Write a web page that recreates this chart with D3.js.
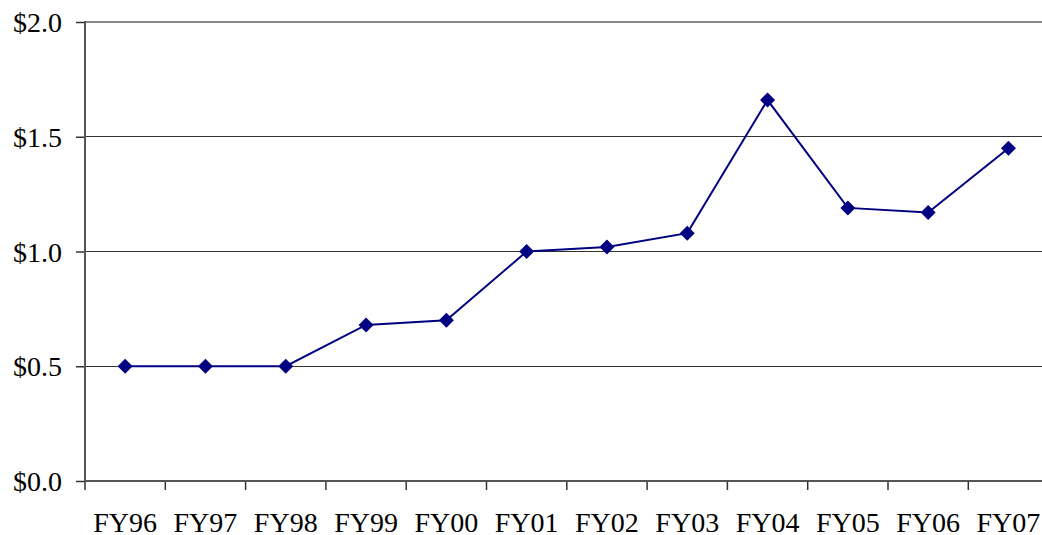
<!DOCTYPE html>
<html><head><meta charset="utf-8">
<script src="https://cdn.jsdelivr.net/npm/d3@7/dist/d3.min.js"></script>
<style>html,body{margin:0;padding:0;background:#fff;overflow:hidden}</style>
</head><body>
<svg id="c" width="1042" height="535"></svg>
<script>
const categories = ["FY96","FY97","FY98","FY99","FY00","FY01","FY02","FY03","FY04","FY05","FY06","FY07"];
const values = [0.50,0.50,0.50,0.68,0.70,1.00,1.02,1.08,1.66,1.19,1.17,1.45];
const yTicks = [0,0.5,1.0,1.5,2.0];
const yTickLabels = ["$0.0","$0.5","$1.0","$1.5","$2.0"];

(function(){
const svg = d3.select("#c");
const pL = 85, pR = 85 + 12*80.3, pT = 22, pB = 481;
const x = d3.scaleBand().domain(categories).range([pL, pR]);
const y = d3.scaleLinear().domain([0,2]).range([pB, pT]);
const font = "'Liberation Serif','Times New Roman',serif";

// gridlines
svg.append("g").selectAll("line").data(yTicks.filter(d=>d>0)).join("line")
  .attr("x1", pL).attr("x2", 1042)
  .attr("y1", d=>y(d)).attr("y2", d=>y(d))
  .attr("stroke", d=>d===2?"#888":"#333")
  .attr("stroke-width", d=>d===2?2:1)
  .attr("shape-rendering","crispEdges");

// y axis
const yAxis = d3.axisLeft(y).tickValues(yTicks).tickFormat((d,i)=>yTickLabels[i]).tickSize(9).tickPadding(14);
const gy = svg.append("g").attr("transform",`translate(${pL},0)`).call(yAxis);
gy.select(".domain").remove();
gy.selectAll(".tick line").attr("stroke","#333").attr("stroke-width",1.5);
gy.selectAll("text").attr("font-family",font).attr("font-size",28).attr("fill","#000").attr("dy","0.34em");
svg.append("line").attr("x1",pL).attr("x2",pL).attr("y1",pT-1).attr("y2",pB+1)
  .attr("stroke","#555").attr("stroke-width",2);

// x axis
const tickPos = categories.map(c=>x(c));
svg.append("g").selectAll("line").data(tickPos).join("line")
  .attr("x1",d=>d).attr("x2",d=>d).attr("y1",pB).attr("y2",pB+9)
  .attr("stroke","#333").attr("stroke-width",1.5);
svg.append("line").attr("x1",pL).attr("x2",1042).attr("y1",pB).attr("y2",pB)
  .attr("stroke","#555").attr("stroke-width",2);
svg.append("g").selectAll("text").data(categories).join("text")
  .attr("x",d=>x(d)+x.bandwidth()/2).attr("y",532)
  .attr("text-anchor","middle").attr("font-family",font).attr("font-size",28).attr("fill","#000")
  .text(d=>d);

// line
const cx = (d,i)=>x(categories[i])+x.bandwidth()/2;
svg.append("path").datum(values)
  .attr("d", d3.line().x(cx).y(d=>y(d)))
  .attr("fill","none").attr("stroke","#000080").attr("stroke-width",2);
svg.append("g").selectAll("path").data(values).join("path")
  .attr("transform",(d,i)=>`translate(${cx(d,i)},${y(d)})`)
  .attr("d","M0,-7.5L7.5,0L0,7.5L-7.5,0Z")
  .attr("fill","#000080");
})();
</script>
</body></html>
